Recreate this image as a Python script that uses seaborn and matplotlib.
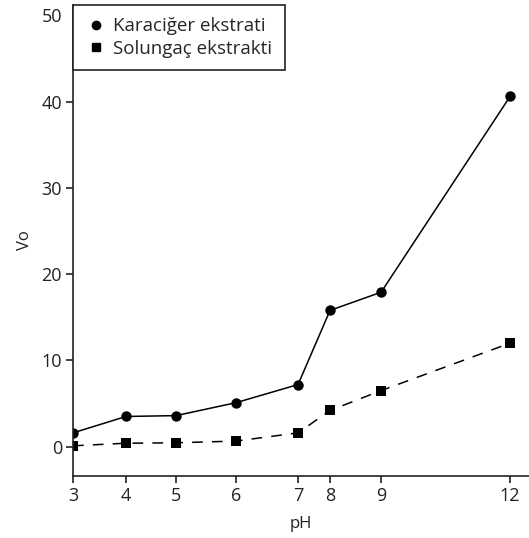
import numpy as np
import pandas as pd
import seaborn as sns
import matplotlib.pyplot as plt
from matplotlib.lines import Line2D

# data
ph = [3, 4, 5, 6, 7, 8, 9, 12]
karaciger = [1.6, 3.5, 3.6, 5.1, 7.2, 15.8, 17.9, 40.6]
solungac = [0.1, 0.4, 0.45, 0.65, 1.6, 4.2, 6.5, 12.0]
series_names = ["Karaciğer ekstrati", "Solungaç ekstrakti"]
x_ticks = [3, 4, 5, 6, 7, 8, 9, 12]
y_ticks = [0, 10, 20, 30, 40, 50]

# the pH axis in the original is drawn unevenly; piecewise linear scale
scale_ph = np.array([3, 4, 5, 6, 7, 8, 9, 12], dtype=float)
scale_pos = np.array([0, 53, 103, 163, 225, 257, 308, 437], dtype=float)


def fwd(x):
    x = np.asarray(x, dtype=float)
    out = np.interp(x, scale_ph, scale_pos)
    lo = (scale_pos[1] - scale_pos[0]) / (scale_ph[1] - scale_ph[0])
    hi = (scale_pos[-1] - scale_pos[-2]) / (scale_ph[-1] - scale_ph[-2])
    out = np.where(x < scale_ph[0], scale_pos[0] + (x - scale_ph[0]) * lo, out)
    out = np.where(x > scale_ph[-1], scale_pos[-1] + (x - scale_ph[-1]) * hi, out)
    return out


def inv(p):
    p = np.asarray(p, dtype=float)
    out = np.interp(p, scale_pos, scale_ph)
    lo = (scale_ph[1] - scale_ph[0]) / (scale_pos[1] - scale_pos[0])
    hi = (scale_ph[-1] - scale_ph[-2]) / (scale_pos[-1] - scale_pos[-2])
    out = np.where(p < scale_pos[0], scale_ph[0] + (p - scale_pos[0]) * lo, out)
    out = np.where(p > scale_pos[-1], scale_ph[-1] + (p - scale_pos[-1]) * hi, out)
    return out


df = pd.DataFrame({
    "pH": ph + ph,
    "Vo": karaciger + solungac,
    "seri": [series_names[0]] * len(ph) + [series_names[1]] * len(ph),
})

sns.set_style("ticks")
plt.rcParams["font.family"] = ["Open Sans", "DejaVu Sans"]
plt.rcParams["axes.linewidth"] = 1.2
plt.rcParams["xtick.major.width"] = 1.2
plt.rcParams["ytick.major.width"] = 1.2

fig = plt.figure(figsize=(5.29, 5.38), dpi=100)
ax = fig.add_axes([73 / 529, 1 - 476 / 538, 1 - 73 / 529, (476 - 5) / 538])

sns.lineplot(data=df, x="pH", y="Vo", style="seri",
             markers={series_names[0]: "o", series_names[1]: "s"},
             dashes={series_names[0]: "", series_names[1]: (7, 6)},
             color="black", markersize=7.5, markeredgewidth=0,
             linewidth=1.1, ax=ax, legend=False)

ax.set_xscale("function", functions=(fwd, inv))
ax.set_xlim(3, 12.44)
ax.set_ylim(-3.4, 51.2)
ax.set_xticks(x_ticks)
ax.set_xticklabels([str(t) for t in x_ticks])
ax.set_yticks(y_ticks)
ax.minorticks_off()
ax.yaxis.get_major_ticks()[-1].tick1line.set_visible(False)
ax.tick_params(axis="both", labelsize=13, length=5, color="#222222",
               labelcolor="#222222", pad=3)
sns.despine(ax=ax)
for s in ["left", "bottom"]:
    ax.spines[s].set_color("#222222")

ax.set_xlabel("pH", fontsize=12, color="#222222", labelpad=8)
ax.set_ylabel("Vo", fontsize=12, color="#222222", labelpad=6)

handles = [
    Line2D([], [], marker="o", color="black", linestyle="none", markersize=6),
    Line2D([], [], marker="s", color="black", linestyle="none", markersize=5.5),
]
leg = ax.legend(handles, series_names, loc="upper left", bbox_to_anchor=(0, 1),
                borderaxespad=0, fancybox=False, framealpha=1, fontsize=13.5,
                handlelength=1.2, handletextpad=0.3, borderpad=0.65,
                labelspacing=0.25)
leg.get_frame().set_edgecolor("#222222")
leg.get_frame().set_linewidth(1.2)

fig.savefig("out.png", dpi=100)
